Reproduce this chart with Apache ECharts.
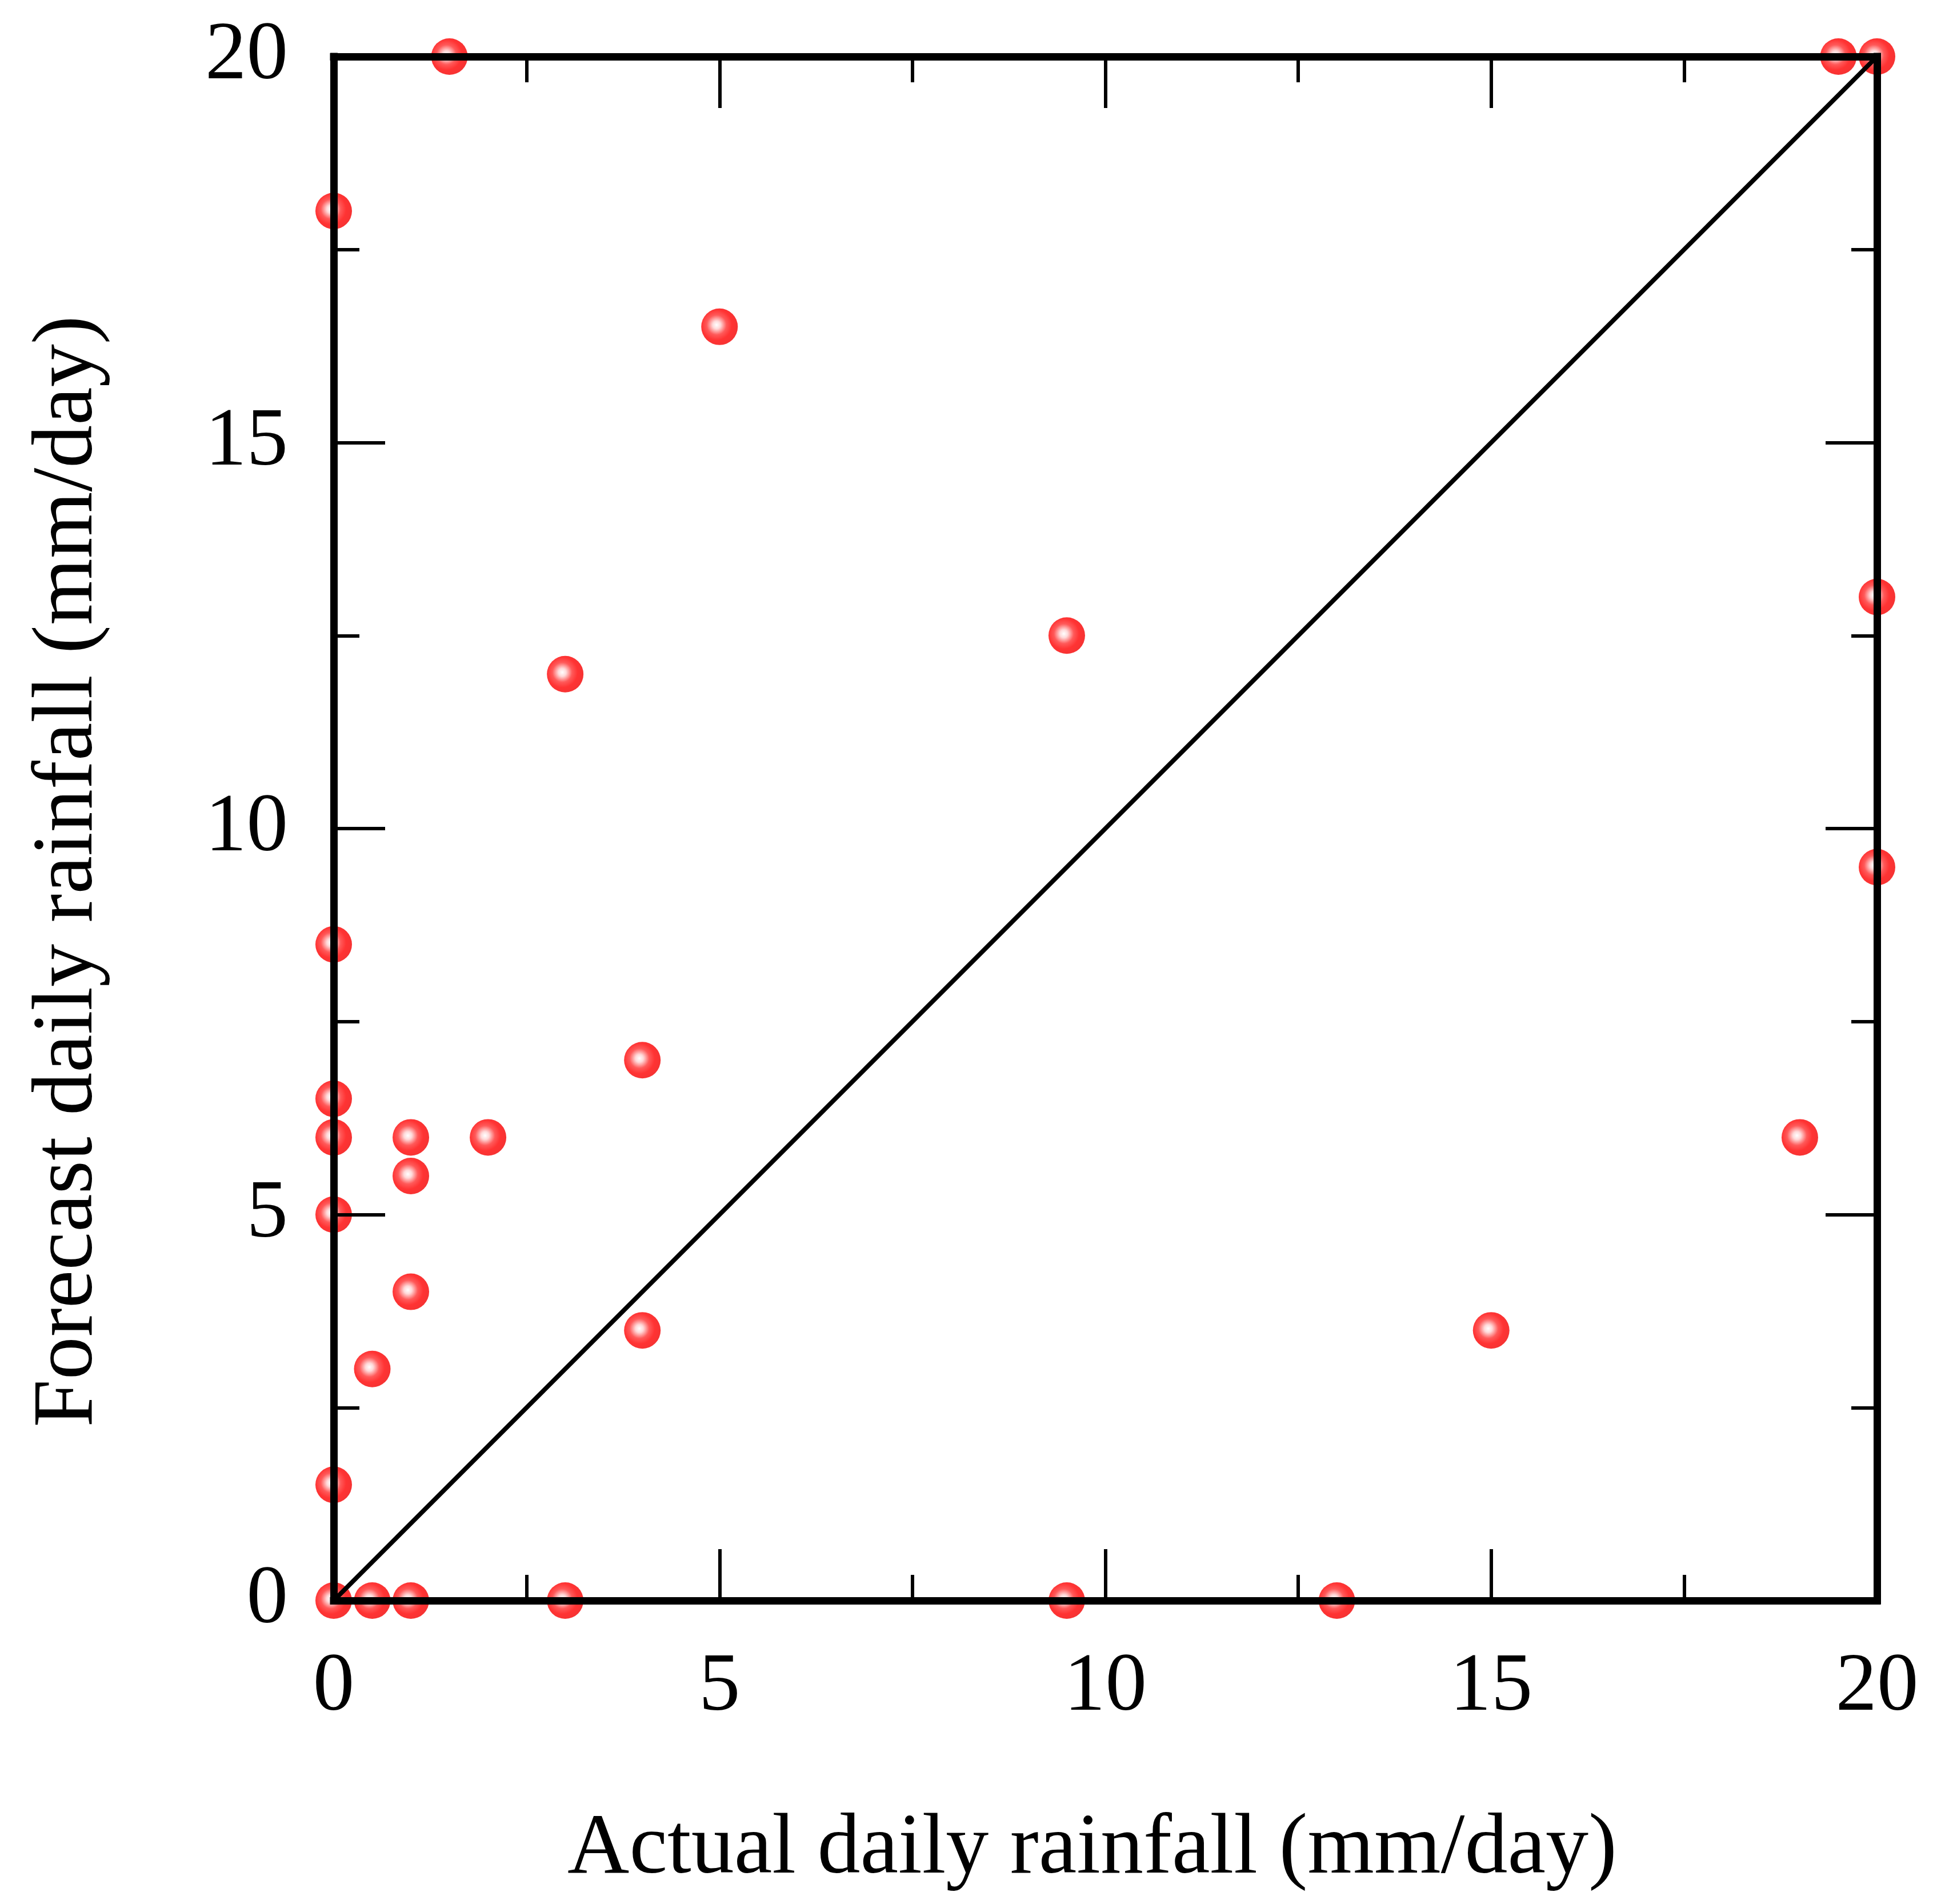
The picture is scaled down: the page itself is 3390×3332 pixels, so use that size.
<!DOCTYPE html>
<html>
<head>
<meta charset="utf-8">
<script src="https://cdn.jsdelivr.net/npm/echarts@6/dist/echarts.min.js"></script>
<style>
html,body{margin:0;padding:0;background:#fff;}
#chart{width:3390px;height:3332px;}
</style>
</head>
<body>
<div id="chart"></div>
<script>
// Data
const actual   = [1.5, 0, 5, 3, 9.5, 19.5, 20, 20, 20, 0, 0, 0, 0, 1, 1, 2, 4, 1, 0.5, 4, 0, 0, 0.5, 1, 3, 9.5, 13, 15, 19];
const forecast = [20, 18, 16.5, 12, 12.5, 20, 20, 13, 9.5, 8.5, 6.5, 6, 5, 6, 5.5, 6, 7, 4, 3, 3.5, 1.5, 0, 0, 0, 0, 0, 0, 3.5, 6];
const refLineX = [0, 20];
const refLineY = [0, 20];
const axisMin = 0;
const axisMax = 20;
const axisStep = 5;
const xTitle = 'Actual daily rainfall (mm/day)';
const yTitle = 'Forecast daily rainfall (mm/day)';

const FONT = 'Liberation Serif, Times New Roman, serif';

function makeAxis(position, showLabel, extra) {
  return Object.assign({
    type: 'value',
    position: position,
    min: axisMin,
    max: axisMax,
    interval: axisStep,
    z: 5,
    axisLine: { show: true, onZero: false, lineStyle: { color: '#000', width: 13, cap: 'square' } },
    axisTick: { show: true, inside: true, length: 90, lineStyle: { color: '#000', width: 6 } },
    minorTick: { show: true, splitNumber: 2, length: 45, lineStyle: { color: '#000', width: 6 } },
    splitLine: { show: false },
    minorSplitLine: { show: false },
    axisLabel: { show: showLabel, margin: 80, fontSize: 145, fontFamily: FONT, color: '#000' }
  }, extra || {});
}

const chart = echarts.init(document.getElementById('chart'));
chart.setOption({
  backgroundColor: '#fff',
  animation: false,
  grid: { left: 584, top: 99, width: 2701, height: 2702, containLabel: false },
  xAxis: [
    makeAxis('bottom', true, {
      name: xTitle, nameLocation: 'middle', nameGap: 362,
      nameTextStyle: { fontSize: 150, fontFamily: FONT, color: '#000', padding: [0, 46, 0, 0] }
    }),
    makeAxis('top', false)
  ],
  yAxis: [
    makeAxis('left', true, {
      name: yTitle, nameLocation: 'middle', nameGap: 388, nameRotate: 90,
      nameTextStyle: { fontSize: 150, fontFamily: FONT, color: '#000', padding: [0, 150, 0, 0] }
    }),
    makeAxis('right', false)
  ],
  series: [
    {
      type: 'scatter',
      xAxisIndex: 0, yAxisIndex: 0,
      data: actual.map((v, i) => [v, forecast[i]]),
      symbol: 'circle',
      symbolSize: 64,
      clip: false,
      z: 1,
      itemStyle: {
        color: {
          type: 'radial', x: 0.42, y: 0.45, r: 0.6,
          colorStops: [
            { offset: 0, color: '#ffffff' },
            { offset: 0.18, color: '#ffd0d0' },
            { offset: 0.45, color: '#ff3030' },
            { offset: 0.7, color: '#ff0000' },
            { offset: 1, color: '#f20000' }
          ]
        }
      }
    },
    {
      type: 'line',
      xAxisIndex: 0, yAxisIndex: 0,
      data: refLineX.map((v, i) => [v, refLineY[i]]),
      symbol: 'none',
      z: 4,
      lineStyle: { color: '#000', width: 8 }
    }
  ]
});
</script>
</body>
</html>
